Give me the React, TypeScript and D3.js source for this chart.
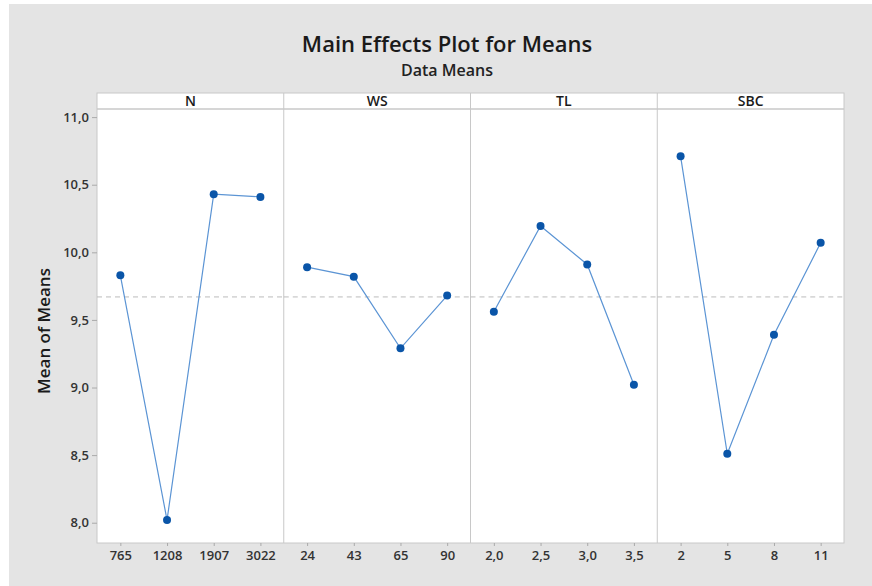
import React, { useEffect, useRef } from 'react'
import * as d3 from 'd3'

// factor names and their levels
const factors = ['N', 'WS', 'TL', 'SBC']
const levelsN = ['765', '1208', '1907', '3022']
const levelsWS = ['24', '43', '65', '90']
const levelsTL = ['2,0', '2,5', '3,0', '3,5']
const levelsSBC = ['2', '5', '8', '11']
const meansN = [9.83, 8.02, 10.43, 10.41]
const meansWS = [9.89, 9.82, 9.29, 9.68]
const meansTL = [9.56, 10.195, 9.91, 9.02]
const meansSBC = [10.71, 8.51, 9.39, 10.07]
const grandMean = 9.67
const yTicks = [8.0, 8.5, 9.0, 9.5, 10.0, 10.5, 11.0]

const App = () => {
  const svgRef = useRef<SVGSVGElement>(null)

  useEffect(() => {
    const svg = d3.select(svgRef.current)
    svg.selectAll('*').remove()

    const width = 872
    const height = 586
    const font = '"Open Sans", "Noto Sans", sans-serif'

    const panels = [
      { name: factors[0], levels: levelsN, values: meansN },
      { name: factors[1], levels: levelsWS, values: meansWS },
      { name: factors[2], levels: levelsTL, values: meansTL },
      { name: factors[3], levels: levelsSBC, values: meansSBC },
    ]

    const left = 97, right = 844, top = 109, bottom = 543, stripTop = 93

    // background
    svg.append('rect').attr('width', width).attr('height', height).attr('fill', '#fff')
    svg.append('rect').attr('x', 9).attr('y', 4).attr('width', width - 9).attr('height', height - 4).attr('fill', '#e4e4e4')

    const y = d3.scaleLinear().domain([7.85, 11.06]).range([bottom, top])
    const panelX = d3.scaleBand().domain(factors).range([left, right])

    // title
    svg.append('text').attr('x', 447).attr('y', 52).attr('text-anchor', 'middle')
      .style('font', `600 22px ${font}`).attr('fill', '#1a1a1a').text('Main Effects Plot for Means')
    svg.append('text').attr('x', 447).attr('y', 76).attr('text-anchor', 'middle')
      .style('font', `600 16px ${font}`).attr('fill', '#222').text('Data Means')

    // white plot area and strips
    svg.append('rect').attr('x', left).attr('y', stripTop).attr('width', right - left).attr('height', bottom - stripTop)
      .attr('fill', '#fff').attr('stroke', '#c8c8c8')
    svg.append('line').attr('x1', left).attr('x2', right).attr('y1', top).attr('y2', top)
      .attr('stroke', '#c8c8c8').attr('stroke-width', 1.5)

    // y axis
    const yAxis = svg.append('g').attr('transform', `translate(${left},0)`)
      .call(d3.axisLeft(y).tickValues(yTicks).tickSize(5).tickPadding(3)
        .tickFormat(d => d3.format('.1f')(d as number).replace('.', ',')))
    yAxis.select('.domain').remove()
    yAxis.selectAll('line').attr('stroke', '#aaa')
    yAxis.selectAll('text').style('font', `600 13px ${font}`).attr('fill', '#333')

    svg.append('text').attr('transform', `translate(50,331) rotate(-90)`)
      .attr('text-anchor', 'middle').style('font', `600 17px ${font}`).attr('fill', '#1a1a1a').text('Mean of Means')

    const line = d3.line<number>()

    panels.forEach(p => {
      const x0 = panelX(p.name)!
      const x = d3.scalePoint().domain(p.levels).range([x0, x0 + panelX.bandwidth()]).padding(0.5)

      if (p.name !== factors[0]) {
        svg.append('line').attr('x1', x0).attr('x2', x0).attr('y1', stripTop).attr('y2', bottom)
          .attr('stroke', '#c8c8c8')
      }
      svg.append('text').attr('x', x0 + panelX.bandwidth() / 2).attr('y', top - 3).attr('text-anchor', 'middle')
        .style('font', `600 14px ${font}`).attr('fill', '#1a1a1a').text(p.name)

      // reference line at the grand mean
      svg.append('line').attr('x1', x0).attr('x2', x0 + panelX.bandwidth())
        .attr('y1', y(grandMean)).attr('y2', y(grandMean))
        .attr('stroke', '#bbb').attr('stroke-dasharray', '5,4')

      const xAxis = svg.append('g').attr('transform', `translate(0,${bottom})`)
        .call(d3.axisBottom(x).tickSize(3).tickPadding(5))
      xAxis.select('.domain').remove()
      xAxis.selectAll('line').attr('stroke', '#aaa')
      xAxis.selectAll('text').style('font', `600 13px ${font}`).attr('fill', '#333')

      const pts: [number, number][] = p.levels.map((l, i) => [x(l)!, y(p.values[i])])
      svg.append('path').attr('d', line.x(d => d[0]).y(d => d[1])(pts as any))
        .attr('fill', 'none').attr('stroke', '#5b94d4').attr('stroke-width', 1.2)
      svg.append('g').selectAll('circle').data(pts).join('circle')
        .attr('cx', d => d[0]).attr('cy', d => d[1]).attr('r', 4).attr('fill', '#0a55a8')
    })
  }, [])

  return (
    <svg ref={svgRef} width={872} height={586} style={{ position: 'absolute', left: 0, top: 0 }} />
  )
}

export default App
